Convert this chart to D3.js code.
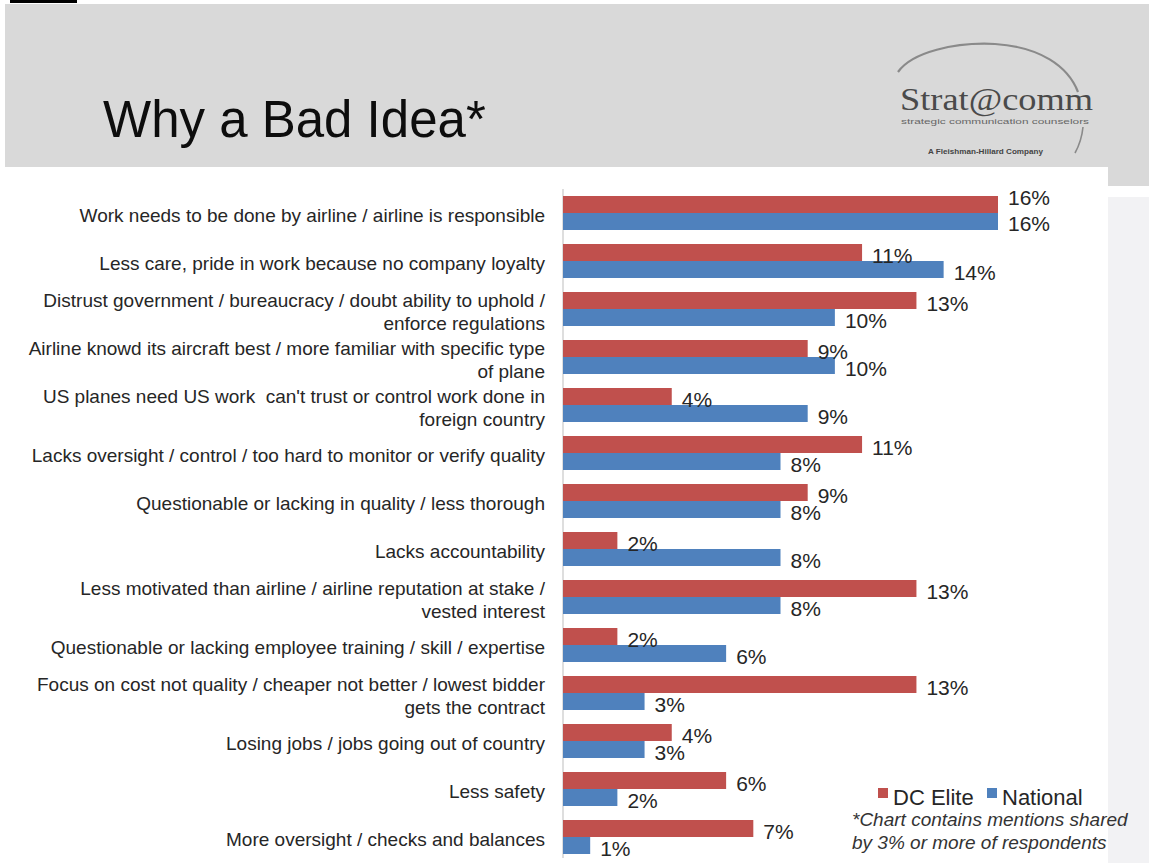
<!DOCTYPE html>
<html>
<head>
<meta charset="utf-8">
<script src="https://cdn.jsdelivr.net/npm/d3@7"></script>
<style>
  html, body { margin: 0; padding: 0; background: #ffffff; }
  svg { display: block; font-family: "Liberation Sans", Arial, sans-serif; }
  tspan { white-space: pre; }
</style>
</head>
<body>
<svg id="chart" width="1149" height="863"></svg>
<script>
// ---------- DATA ----------
const categories = [
  "Work needs to be done by airline / airline is responsible",
  "Less care, pride in work because no company loyalty",
  "Distrust government / bureaucracy / doubt ability to uphold /\nenforce regulations",
  "Airline knowd its aircraft best / more familiar with specific type\nof plane",
  "US planes need US work  can't trust or control work done in\nforeign country",
  "Lacks oversight / control / too hard to monitor or verify quality",
  "Questionable or lacking in quality / less thorough",
  "Lacks accountability",
  "Less motivated than airline / airline reputation at stake /\nvested interest",
  "Questionable or lacking employee training / skill / expertise",
  "Focus on cost not quality / cheaper not better / lowest bidder\ngets the contract",
  "Losing jobs / jobs going out of country",
  "Less safety",
  "More oversight / checks and balances"
];
const dcElite  = [16, 11, 13, 9, 4, 11, 9, 2, 13, 2, 13, 4, 6, 7];
const national = [16, 14, 10, 10, 9, 8, 8, 8, 8, 6, 3, 3, 2, 1];
const seriesNames = ["DC Elite", "National"];
const seriesColors = ["#c0504d", "#4f81bd"];
const title = "Why a Bad Idea*";
const footnote = ["*Chart contains mentions shared", "by 3% or more of respondents"];

// ---------- LAYOUT ----------
const svg = d3.select("#chart");
const W = 1149, H = 863;

// slide background pieces
svg.append("rect").attr("x", 0).attr("y", 0).attr("width", W).attr("height", H).attr("fill", "#ffffff");
svg.append("rect").attr("x", 5).attr("y", 4).attr("width", W - 5).attr("height", 163).attr("fill", "#d9d9d9");
svg.append("rect").attr("x", 1108).attr("y", 4).attr("width", W - 1108).attr("height", 182).attr("fill", "#d9d9d9");
svg.append("rect").attr("x", 1108).attr("y", 197).attr("width", W - 1108).attr("height", H - 197).attr("fill", "#f2f2f4");
svg.append("rect").attr("x", 10).attr("y", 0).attr("width", 67).attr("height", 3).attr("fill", "#000000");

// title
svg.append("text").attr("x", 103).attr("y", 137)
  .attr("font-size", 51).attr("fill", "#0d0d0d").text(title);

// logo
const logo = svg.append("g");
logo.append("path")
  .attr("d", "M898,72 C912,52 955,42 995,44 C1040,47 1068,66 1078,92")
  .attr("fill", "none").attr("stroke", "#8a8a8a").attr("stroke-width", 2.2);
logo.append("path")
  .attr("d", "M1083,127 C1082,137 1080,144 1075,153")
  .attr("fill", "none").attr("stroke", "#8a8a8a").attr("stroke-width", 1.6);
logo.append("text").attr("x", 900).attr("y", 110)
  .attr("font-family", "'Liberation Serif', 'DejaVu Serif', serif")
  .attr("font-size", 32).attr("fill", "#4a4a4a")
  .attr("textLength", 193).attr("lengthAdjust", "spacingAndGlyphs").text("Strat@comm");
logo.append("text").attr("x", 901).attr("y", 124)
  .attr("font-size", 7).attr("fill", "#666")
  .attr("textLength", 188).attr("lengthAdjust", "spacingAndGlyphs").text("strategic communication counselors");
logo.append("text").attr("x", 928).attr("y", 154)
  .attr("font-size", 6.5).attr("font-weight", "bold").attr("fill", "#444")
  .attr("textLength", 115).attr("lengthAdjust", "spacingAndGlyphs").text("A Fleishman-Hillard Company");

// scales
const x = d3.scaleLinear().domain([0, 16]).range([563, 998]);
const y = d3.scaleBand().domain(d3.range(categories.length))
  .range([189, 189 + 48 * categories.length])
  .paddingInner(14 / 48).paddingOuter(7 / 48);
const sub = d3.scaleBand().domain([0, 1]).range([0, y.bandwidth()]);

// axis line (category axis)
const yAxis = d3.axisLeft(y).tickSize(0).tickFormat("");
const axisG = svg.append("g").attr("transform", `translate(${x(0)},0)`).call(yAxis);
axisG.select(".domain").attr("stroke", "#c8c8c8").attr("stroke-width", 1.2)
  .attr("d", `M0,189V858`);

// category labels
const labelG = svg.append("g");
categories.forEach((c, i) => {
  const lines = c.split("\n");
  const cy = y(i) + y.bandwidth() / 2 + 2.5;
  const lh = 23;
  const t = labelG.append("text").attr("text-anchor", "end")
    .attr("font-size", 19).attr("fill", "#262626");
  lines.forEach((ln, j) => {
    t.append("tspan").attr("x", 545)
      .attr("y", cy + (j - (lines.length - 1) / 2) * lh)
      .attr("dy", "0.35em").text(ln);
  });
});

// bars
const series = [dcElite, national];
series.forEach((vals, s) => {
  svg.append("g").selectAll("rect").data(vals).join("rect")
    .attr("x", x(0))
    .attr("y", (d, i) => y(i) + sub(s))
    .attr("width", d => x(d) - x(0))
    .attr("height", sub.bandwidth())
    .attr("fill", seriesColors[s]);
});

// value labels (drawn on top of all bars)
series.forEach((vals, s) => {
  svg.append("g").selectAll("text").data(vals).join("text")
    .attr("x", d => x(d) + 10)
    .attr("y", (d, i) => {
      const center = y(i) + sub(s) + sub.bandwidth() / 2;
      // when both labels share the same end point, spread them apart
      if (dcElite[i] === national[i]) return center + (s === 0 ? -7 : 2.5);
      return center + 3.5;
    })
    .attr("dy", "0.35em")
    .attr("font-size", 21).attr("fill", "#262626")
    .text(d => d + "%");
});

// legend
const legend = svg.append("g");
const legX = [878, 987];
seriesNames.forEach((n, s) => {
  legend.append("rect").attr("x", legX[s]).attr("y", 788).attr("width", 10).attr("height", 10)
    .attr("fill", seriesColors[s]);
  legend.append("text").attr("x", legX[s] + 15).attr("y", 805)
    .attr("font-size", 22).attr("fill", "#262626").text(n);
});

// footnote
footnote.forEach((ln, j) => {
  svg.append("text").attr("x", 852).attr("y", 826 + j * 23)
    .attr("font-size", 19).attr("font-style", "italic").attr("fill", "#333")
    .text(ln);
});
</script>
</body>
</html>
